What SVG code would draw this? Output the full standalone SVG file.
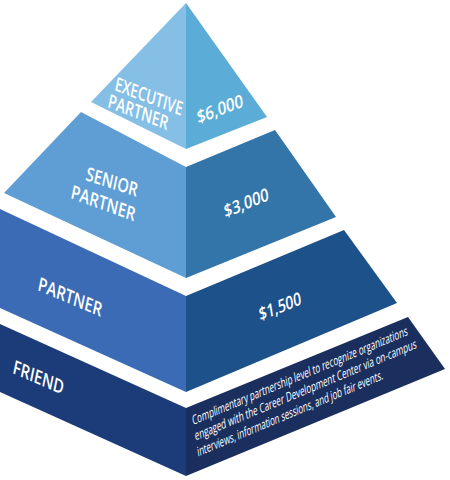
<svg xmlns="http://www.w3.org/2000/svg" width="450" height="480" viewBox="0 0 450 480">
<style>
.lbl{font-family:"Open Sans","Liberation Sans",sans-serif;font-weight:600;fill:#ffffff;font-size:19px}
.num{font-family:"Open Sans","Liberation Sans",sans-serif;font-weight:600;fill:#ffffff;font-size:18px}
.desc{font-family:"Open Sans","Liberation Sans",sans-serif;font-weight:400;fill:#ffffff;font-size:13px}
</style>
<rect width="450" height="480" fill="#ffffff"/>
<g id="tier-executive">
<polygon points="186,3 91,102 186,149" fill="#85bfe6"/>
<polygon points="186,3 186,149 267,117" fill="#5badd8"/>
<text class="lbl" transform="matrix(0.934,0.358,-0.2,0.98,114,90)" textLength="72" lengthAdjust="spacingAndGlyphs">EXECUTIVE</text>
<text class="lbl" transform="matrix(0.934,0.358,-0.2,0.98,107,107)" textLength="64" lengthAdjust="spacingAndGlyphs">PARTNER</text>
<text class="num" transform="matrix(0.934,-0.358,0.15,0.99,198,124)" textLength="49" lengthAdjust="spacingAndGlyphs">$6,000</text>
</g>
<g id="tier-senior">
<polygon points="81,112 186,167 186,278 4,193" fill="#5f9ed4"/>
<polygon points="186,167 275,130 336,217 186,278" fill="#3375a9"/>
<text class="lbl" transform="matrix(0.951,0.309,-0.2,0.98,85,180)" textLength="54" lengthAdjust="spacingAndGlyphs">SENIOR</text>
<text class="lbl" transform="matrix(0.94,0.342,-0.2,0.98,70,198)" textLength="68" lengthAdjust="spacingAndGlyphs">PARTNER</text>
<text class="num" transform="matrix(0.927,-0.375,0.15,0.99,225,218)" textLength="48" lengthAdjust="spacingAndGlyphs">$3,000</text>
</g>
<g id="tier-partner">
<polygon points="0,209 186,296 186,392 0,308" fill="#3b6bb5"/>
<polygon points="186,296 344,230 397,303 186,392" fill="#1d5189"/>
<text class="lbl" transform="matrix(0.922,0.388,-0.2,0.98,37,290)" textLength="69" lengthAdjust="spacingAndGlyphs">PARTNER</text>
<text class="num" transform="matrix(0.928,-0.372,0.15,0.99,260,321)" textLength="45" lengthAdjust="spacingAndGlyphs">$1,500</text>
</g>
<g id="tier-friend">
<polygon points="0,324 186,408 186,476 0,392" fill="#1b3c78"/>
<polygon points="186,408 408,317 445,369 186,476" fill="#1b2f5e"/>
<text class="lbl" transform="matrix(0.918,0.397,-0.2,0.98,12,373)" textLength="55" lengthAdjust="spacingAndGlyphs">FRIEND</text>
<text class="desc" transform="matrix(0.923,-0.386,0.156,0.988,193,425)" textLength="233" lengthAdjust="spacingAndGlyphs">Complimentary partnership level to recognize organizations</text>
<text class="desc" transform="matrix(0.923,-0.386,0.156,0.988,195.5,440.5)" textLength="240" lengthAdjust="spacingAndGlyphs">engaged with the Career Development Center via on-campus</text>
<text class="desc" transform="matrix(0.923,-0.386,0.156,0.988,198,456.5)" textLength="201" lengthAdjust="spacingAndGlyphs">interviews, information sessions, and job fair events.</text>
</g>
</svg>
